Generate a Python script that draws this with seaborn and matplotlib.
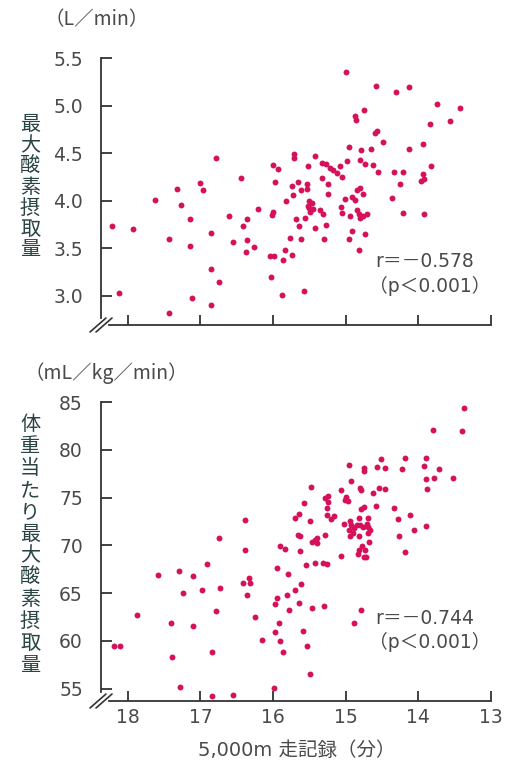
import numpy as np
import pandas as pd
import matplotlib
matplotlib.use("Agg")
import matplotlib.pyplot as plt
import seaborn as sns
from matplotlib.lines import Line2D

# 5000m time (min) vs VO2max (L/min)
time_top = [18.22, 17.93, 18.12, 17.62, 17.33, 17.43, 17.27, 17.44, 17.15, 17.15, 17.12, 17.00,
            16.96, 16.79, 16.85, 16.86, 16.75, 16.86, 16.61, 16.55, 16.44, 16.41, 16.36, 16.36,
            16.37, 16.27, 16.21,
            13.43, 14.99, 14.58, 14.31, 14.13, 13.75, 13.43, 13.57, 13.84, 14.75, 14.87, 14.86,
            14.60, 14.57, 14.49, 14.96, 14.79, 14.65, 14.13, 13.93, 13.82, 13.93, 13.97, 13.92,
            14.33, 14.21, 14.25, 14.37, 14.21, 13.92, 15.71, 15.71, 15.43, 16.00, 15.93, 15.52,
            15.33, 15.27, 15.22, 15.18, 15.12, 15.08, 15.05, 14.98, 14.80, 14.74, 14.63, 14.55,
            15.97, 15.33, 15.25, 15.74, 15.66, 15.62, 15.53, 15.53, 15.73, 15.82, 15.51, 15.52,
            15.46, 15.50, 15.45, 15.35, 15.32, 15.24, 16.00, 16.01, 15.69, 15.64, 15.56, 15.43,
            15.27, 15.77, 15.62, 15.30, 15.01, 14.91, 14.87, 14.84, 14.80, 14.76, 15.06, 15.05,
            14.94, 14.84, 14.82, 14.76, 14.71, 14.80, 14.92, 14.74, 14.95, 14.82, 16.04, 15.99,
            15.87, 15.83, 15.74, 16.03, 15.88, 15.57, 15.49]
vo2_top = [3.73, 3.70, 3.03, 4.01, 4.12, 3.59, 3.95, 2.82, 3.81, 3.52, 2.97, 4.18,
           4.11, 4.45, 3.66, 3.28, 3.14, 2.90, 3.84, 3.56, 4.24, 3.73, 3.81, 3.58,
           3.46, 3.51, 3.91,
           5.54, 5.35, 5.21, 5.14, 5.20, 5.02, 4.97, 4.84, 4.81, 4.95, 4.89, 4.85,
           4.71, 4.73, 4.62, 4.56, 4.53, 4.54, 4.54, 4.59, 4.36, 4.28, 4.21, 4.23,
           4.30, 4.30, 4.17, 4.03, 3.87, 3.86, 4.49, 4.45, 4.47, 4.37, 4.33, 4.36,
           4.40, 4.38, 4.34, 4.32, 4.29, 4.36, 4.25, 4.42, 4.43, 4.38, 4.37, 4.30,
           4.19, 4.24, 4.17, 4.15, 4.19, 4.11, 4.17, 4.12, 4.06, 3.99, 3.99, 3.94,
           3.97, 3.92, 3.91, 3.90, 3.86, 4.07, 3.88, 3.85, 3.81, 3.73, 3.82, 3.71,
           3.74, 3.61, 3.59, 3.60, 4.02, 4.04, 4.01, 4.11, 4.13, 4.07, 3.93, 3.87,
           3.84, 3.90, 3.86, 3.84, 3.86, 3.82, 3.68, 3.65, 3.59, 3.48, 3.42, 3.42,
           3.37, 3.48, 3.43, 3.20, 3.01, 3.05, 3.88]

# 5000m time (min) vs VO2max per body weight (mL/kg/min)
time_bot = [18.19, 18.11, 17.88, 17.58, 17.30, 17.11, 16.91, 17.24, 16.98, 16.73, 16.42, 16.33,
            16.32, 16.36, 16.39, 15.83, 15.91, 15.94, 15.79, 15.95, 15.97, 15.81, 17.41, 17.10,
            16.79, 16.25, 15.92, 15.98, 16.16, 15.90, 15.86, 15.78, 17.39, 16.84, 17.28, 16.84,
            16.55, 15.99, 16.39, 16.74,
            13.37, 13.80, 13.40, 14.96, 14.75, 14.75, 14.51, 14.57, 14.46, 14.19, 14.23, 13.90,
            13.92, 13.71, 13.90, 13.78, 13.53, 13.88, 14.93, 15.48, 14.80, 14.79, 15.06, 14.99,
            15.01, 14.97, 14.62, 14.54, 14.46, 15.28, 15.24, 15.25, 15.26, 15.57, 14.75, 14.79,
            14.58, 14.34, 15.65, 15.70, 15.26, 15.20, 15.16, 15.49, 15.03, 14.94, 14.93, 14.89,
            14.85, 14.81, 14.76, 14.71, 14.69, 14.82, 14.69, 14.96, 14.90, 14.94, 14.82, 14.70,
            14.66, 14.78, 14.82, 14.74, 14.68, 14.83, 14.75, 14.72, 15.66, 15.63, 15.47, 15.42,
            15.39, 15.40, 15.29, 14.28, 14.11, 14.27, 14.06, 13.89, 14.19, 15.63, 15.06,
            15.55, 15.43, 15.32, 15.26, 15.62, 15.70, 15.65, 15.46, 15.30, 14.79, 14.88, 15.59,
            15.54, 15.49]
vo2_bot = [59.49, 59.49, 62.74, 66.89, 67.31, 66.75, 68.01, 65.01, 65.36, 65.53, 66.05, 66.58,
           66.09, 64.84, 69.55, 69.58, 69.93, 67.66, 67.03, 64.48, 63.89, 64.76, 61.86, 61.59,
           63.09, 62.50, 61.90, 60.89, 60.05, 59.98, 58.80, 63.19, 58.31, 58.87, 55.13, 54.26,
           54.37, 55.10, 72.69, 70.81,
           84.42, 82.12, 81.94, 78.38, 78.09, 77.82, 79.04, 78.24, 78.09, 79.14, 78.03, 79.11,
           78.30, 77.99, 76.94, 77.09, 77.02, 75.86, 76.77, 76.10, 76.04, 75.76, 75.76, 75.06,
           74.71, 74.61, 75.52, 76.04, 75.90, 75.00, 75.13, 74.54, 73.91, 74.43, 74.01, 73.84,
           74.16, 73.95, 73.32, 72.90, 73.14, 72.80, 73.11, 72.55, 72.20, 72.55, 72.09, 71.81,
           72.09, 72.16, 71.92, 72.20, 71.88, 72.90, 72.90, 71.57, 71.29, 70.94, 70.94, 71.29,
           71.64, 69.90, 69.48, 69.55, 70.35, 69.13, 68.78, 68.78, 71.05, 70.94, 70.35, 70.52,
           70.28, 70.81, 71.12, 72.79, 73.21, 70.94, 71.60, 72.06, 69.27, 69.40, 68.85,
           67.94, 68.15, 68.15, 68.01, 65.92, 65.29, 63.96, 63.48, 63.65, 63.27, 61.90, 61.03,
           59.50, 56.57]

x_ticks = [18, 17, 16, 15, 14, 13]
y_ticks_top = [3.0, 3.5, 4.0, 4.5, 5.0, 5.5]
y_ticks_bot = [55, 60, 65, 70, 75, 80, 85]

sns.set_style("white")
plt.rcParams['font.family'] = ['DejaVu Sans', 'Noto Sans CJK JP']
cjk = ['Noto Sans CJK JP', 'DejaVu Sans']

W, H = 506, 764
fig = plt.figure(figsize=(W / 100, H / 100), dpi=100)

def fx(x):
    return x / W

def fy(y):
    return 1 - y / H

dot = '#d4115a'
axc = '#333333'
txt = '#4a4a4a'
lab = '#2a4442'

ax1 = fig.add_axes([fx(101), fy(325), fx(491) - fx(101), fy(58) - fy(325)])
ax2 = fig.add_axes([fx(101), fy(701), fx(491) - fx(101), fy(402) - fy(701)])

df_top = pd.DataFrame({'time': time_top, 'vo2': vo2_top})
df_bot = pd.DataFrame({'time': time_bot, 'vo2': vo2_bot})
sns.scatterplot(data=df_top, x='time', y='vo2', ax=ax1, color=dot, s=18, linewidth=0)
sns.scatterplot(data=df_bot, x='time', y='vo2', ax=ax2, color=dot, s=18, linewidth=0)

for ax, yt, ylo, ybound in [(ax1, y_ticks_top, 2.69, 2.76), (ax2, y_ticks_bot, 53.7, 54.6)]:
    ax.set_xlim(18.37, 13.0)
    ax.set_ylim(ylo, yt[-1])
    ax.set_xticks(x_ticks)
    ax.set_yticks(yt)
    ax.set_xlabel('')
    ax.set_ylabel('')
    for s in ['top', 'right']:
        ax.spines[s].set_visible(False)
    for s in ['left', 'bottom']:
        ax.spines[s].set_color(axc)
        ax.spines[s].set_linewidth(1.3)
    ax.spines['left'].set_bounds(ybound, yt[-1])
    ax.spines['bottom'].set_bounds(18.26, 13.0)
    ax.tick_params(axis='y', left=True, direction='in', length=8, width=1.3, color=axc,
                   pad=13, labelsize=13.5, labelcolor=txt)
    ax.tick_params(axis='x', bottom=True, direction='in', length=7, width=1.3, color=axc,
                   pad=5, labelsize=13.5, labelcolor=txt)

ax1.set_yticklabels(['3.0', '3.5', '4.0', '4.5', '5.0', '5.5'])
ax1.set_xticklabels([])
ax2.set_xticklabels([str(t) for t in x_ticks])

# axis break marks at the lower-left corners
for cy in (325, 701):
    for off in (-3, 3):
        x0, y0 = 101 + off - 8, cy + 7
        x1, y1 = 101 + off + 8, cy - 7
        fig.add_artist(Line2D([fx(x0), fx(x1)], [fy(y0), fy(y1)], color=axc, lw=1.2))

# units
fig.text(fx(45), fy(20), '（L／min）', fontsize=14, color=txt, ha='left', va='center', family=cjk)
fig.text(fx(25), fy(373), '（mL／kg／min）', fontsize=14, color=txt, ha='left', va='center', family=cjk)

# vertical y labels
for chars, y0, y1 in [('最大酸素摂取量', 125, 250), ('体重当たり最大酸素摂取量', 425, 665)]:
    n = len(chars)
    for i, c in enumerate(chars):
        yy = y0 + (y1 - y0) * i / (n - 1)
        fig.text(fx(30), fy(yy), c, fontsize=14.5, color=lab, ha='center', va='center',
                 family=cjk)

# correlation notes
fig.text(fx(375), fy(262), 'r＝－0.578', fontsize=13.5, color=txt, ha='left', va='center', family=cjk[::-1])
fig.text(fx(369), fy(286), '（p＜0.001）', fontsize=13.5, color=txt, ha='left', va='center', family=cjk[::-1])
fig.text(fx(375), fy(618), 'r＝－0.744', fontsize=13.5, color=txt, ha='left', va='center', family=cjk[::-1])
fig.text(fx(369), fy(642), '（p＜0.001）', fontsize=13.5, color=txt, ha='left', va='center', family=cjk[::-1])

fig.text(fx(297), fy(751), '5,000m 走記録（分）', fontsize=14, color=txt, ha='center', va='center',
         family=cjk[::-1])

fig.savefig('out.png', dpi=100)
